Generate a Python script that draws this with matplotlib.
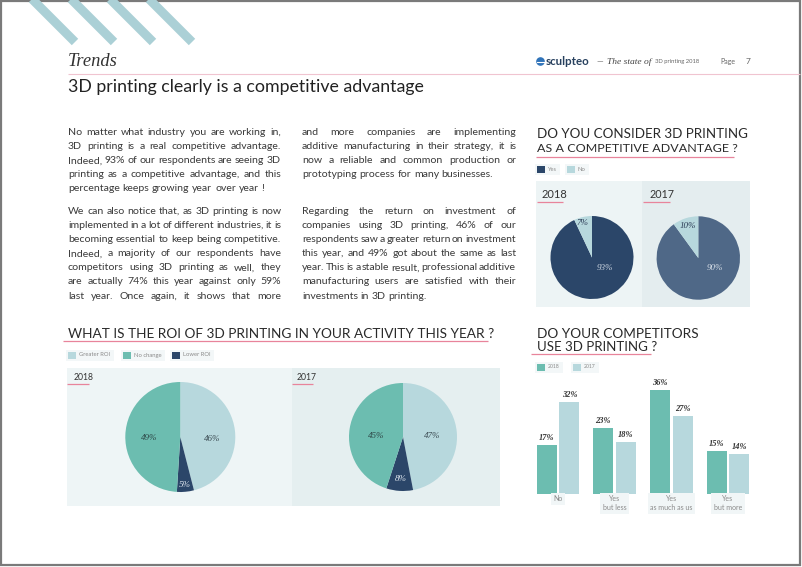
import numpy as np
import matplotlib
matplotlib.use("Agg")
import matplotlib.pyplot as plt
from matplotlib.patches import Rectangle, Circle

# ---- data ----
adv_labels = ["Yes", "No"]
adv_2018 = [93, 7]
adv_2017 = [90, 10]

roi_labels = ["Greater ROI", "No change", "Lower ROI"]
roi_2018 = [46, 49, 5]
roi_2017 = [47, 45, 8]

comp_cats = ["No", "Yes\nbut less", "Yes\nas much as us", "Yes\nbut more"]
comp_years = ["2018", "2017"]
comp_2018 = [17, 23, 36, 15]
comp_2017 = [32, 18, 27, 14]

col1_par1 = ["No matter what industry you are working in,",
             "3D printing is a real competitive advantage.",
             "Indeed, 93% of our respondents are seeing 3D",
             "printing as a competitive advantage, and this",
             "percentage keeps growing year over year !"]
col1_par2 = ["We can also notice that, as 3D printing is now",
             "implemented in a lot of different industries, it is",
             "becoming essential to keep being competitive.",
             "Indeed, a majority of our respondents have",
             "competitors using 3D printing as well, they",
             "are actually 74% this year against only 59%",
             "last year. Once again, it shows that more"]
col2_par1 = ["and more companies are implementing",
             "additive manufacturing in their strategy, it is",
             "now a reliable and common production or",
             "prototyping process for many businesses."]
col2_par2 = ["Regarding the return on investment of",
             "companies using 3D printing, 46% of our",
             "respondents saw a greater return on investment",
             "this year, and 49% got about the same as last",
             "year. This is a stable result, professional additive",
             "manufacturing users are satisfied with their",
             "investments in 3D printing."]

# ---- style ----
W, H = 802, 567
SANS = "Lato"
SERIF = "Liberation Serif"
NAVY = "#2b4669"
SLATE = "#4f6887"
LIGHT = "#b7d8dd"
TEAL = "#6cbdb0"
PINK = "#e8849b"
INK = "#333333"
GREY = "#8a8a8a"

fig = plt.figure(figsize=(W / 100, H / 100), dpi=100)
bg = fig.add_axes([0, 0, 1, 1])
bg.set_xlim(0, W)
bg.set_ylim(H, 0)
bg.axis("off")
rend = fig.canvas.get_renderer()


def box(x0, y0, x1, y1):
    return [x0 / W, 1 - y1 / H, (x1 - x0) / W, (y1 - y0) / H]


def width(t):
    return t.get_window_extent(renderer=rend).width


def fit(t, w):
    t.set_fontsize(t.get_fontsize() * w / width(t))
    return t


def txt(x, y, s, **kw):
    kw.setdefault("family", SANS)
    kw.setdefault("color", INK)
    kw.setdefault("va", "center")
    return bg.text(x, y, s, **kw)


def underline(x0, x1, y, color=PINK, lw=0.9):
    bg.plot([x0, x1], [y, y], color=color, lw=lw, solid_capstyle="butt")


def legend_item(x, y, color, label, w_txt):
    bg.add_patch(Rectangle((x - 2, y - 5.5), w_txt + 16, 11, color="#f3f7f8", lw=0, zorder=0))
    bg.add_patch(Rectangle((x, y - 3.5), 7.5, 7, color=color, lw=0))
    fit(txt(x + 11, y, label, fontsize=5, color=GREY), w_txt)


# page frame and top stripes
bg.add_patch(Rectangle((1, 1), 798.5, 564, fill=False, ec="#7a7a7a", lw=1.6))
for x in [33, 72, 111, 150]:
    bg.plot([x - 4, x + 42], [-4, 42], color="#abd0d6", lw=6.5, solid_capstyle="butt")

# header
fit(txt(68, 61, "Trends", family=SERIF, style="italic", fontsize=14), 50)
underline(68, 800, 73.5, color="#f0c4d0", lw=0.8)
fit(txt(68, 87, "3D printing clearly is a competitive advantage", fontsize=14, color="#222222"), 356)

bg.add_patch(Circle((540.5, 61.5), 3.6, color="#2f73b9"))
bg.plot([537, 544], [61.5, 61.5], color="white", lw=0.8)
fit(txt(546, 61.5, "sculpteo", fontsize=7, weight="bold", color="#27405e"), 44)
txt(596, 61.5, "—", fontsize=6, color="#555555")
fit(txt(607, 61.5, "The state of", family=SERIF, style="italic", fontsize=6.5, color="#444444"), 44)
fit(txt(655, 61.5, "3D printing 2018", fontsize=6, color="#666666"), 45)
fit(txt(720, 61.5, "Page", fontsize=6, color="#666666"), 15)
txt(746, 61.5, "7", fontsize=6, color="#666666")

# body text, justified
t_ref = txt(0, -50, "No matter what industry you are working in,", fontsize=10)
BODY = 10 * 204 / width(t_ref)
t_ref.remove()
t_a = txt(0, -50, "x x", fontsize=BODY)
t_b = txt(0, -50, "xx", fontsize=BODY)
SPACE = width(t_a) - width(t_b)
t_a.remove()
t_b.remove()
LEAD = 14.1


def paragraph(lines, x0, x1, y0, last_full=False):
    for i, line in enumerate(lines):
        y = y0 + i * LEAD + 3
        words = line.split()
        ts = [txt(0, y, w_, fontsize=BODY, color="#3a3a3a", va="baseline") for w_ in words]
        ws = [width(t) for t in ts]
        tight = sum(ws) + 0.55 * SPACE * (len(words) - 1)
        if tight > x1 - x0:
            k = (x1 - x0) / tight
            for t in ts:
                t.set_fontsize(BODY * k)
            ws = [width(t) for t in ts]
        if i == len(lines) - 1 and not last_full:
            gap = SPACE
        else:
            gap = (x1 - x0 - sum(ws)) / (len(words) - 1)
        x = x0
        for t, w_ in zip(ts, ws):
            t.set_x(x)
            x += w_ + gap


paragraph(col1_par1, 68, 281, 132)
paragraph(col1_par2, 68, 281, 211, last_full=True)
paragraph(col2_par1, 302, 516, 132)
paragraph(col2_par2, 302, 516, 211)


def pie(cx, cy, r, vals, colors, labpos, labcol):
    ax = fig.add_axes(box(cx - r, cy - r, cx + r, cy + r))
    wedges, _ = ax.pie(vals, colors=colors, startangle=90, counterclock=False,
                       radius=1, wedgeprops=dict(lw=0))
    for w_, v, (d, shift), c in zip(wedges, vals, labpos, labcol):
        a = np.deg2rad((w_.theta1 + w_.theta2) / 2 + shift)
        ax.text(d * np.cos(a), d * np.sin(a), f"{v}%", ha="center", va="center",
                family=SERIF, style="italic", fontsize=6.5, color=c)
    ax.set_xlim(-1, 1)
    ax.set_ylim(-1, 1)
    ax.axis("off")
    return ax


# --- competitive advantage pies ---
fit(txt(537, 134, "DO YOU CONSIDER 3D PRINTING", fontsize=10, color="#2a2a2a"), 208)
fit(txt(537, 149, "AS A COMPETITIVE ADVANTAGE ?", fontsize=10, color="#2a2a2a"), 199)
underline(536, 734, 157)
legend_item(537, 169.5, NAVY, adv_labels[0], 9)
legend_item(567, 169.5, LIGHT, adv_labels[1], 8)

bg.add_patch(Rectangle((536, 181), 106, 126, color="#edf4f5", lw=0))
bg.add_patch(Rectangle((642, 181), 108, 126, color="#e4edef", lw=0))
fit(txt(542, 194, "2018", fontsize=10), 26)
underline(537, 563, 201.5)
fit(txt(649, 194, "2017", fontsize=10), 25)
underline(643, 670, 201.5)

pie(592, 257.5, 41.5, adv_2018, [NAVY, LIGHT], [(0.40, 39), (0.86, 3)], ["#c9d3df", "#2b3b55"])
pie(698.3, 258, 41.7, adv_2017, [SLATE, LIGHT], [(0.47, 42), (0.81, 0)], ["#d5dde6", "#2b3b55"])

# --- ROI pies ---
fit(txt(68, 333.5, "WHAT IS THE ROI OF 3D PRINTING IN YOUR ACTIVITY THIS YEAR ?",
        fontsize=10, color="#2a2a2a"), 424)
underline(63, 488, 340.5)
legend_item(68, 355, LIGHT, roi_labels[0], 32)
legend_item(123, 355, TEAL, roi_labels[1], 28)
legend_item(172, 355, NAVY, roi_labels[2], 28)

bg.add_patch(Rectangle((67, 368), 225, 138, color="#eef5f6", lw=0))
bg.add_patch(Rectangle((292, 368), 208, 138, color="#e5eff0", lw=0))
fit(txt(74, 377, "2018", fontsize=9), 20)
underline(67, 89, 383.5)
fit(txt(297, 377, "2017", fontsize=9), 20)
underline(292, 313, 384)

# clockwise from 12 o'clock: Greater ROI, Lower ROI, No change
order = [0, 2, 1]
roi_cols = [LIGHT, TEAL, NAVY]
pie(180.3, 437, 55, [roi_2018[i] for i in order], [roi_cols[i] for i in order],
    [(0.573, -11), (0.877, 0), (0.565, 4)], ["#3b4b52", "#dfe6ee", "#2d4646"])
pie(403, 437, 54, [roi_2017[i] for i in order], [roi_cols[i] for i in order],
    [(0.54, -3), (0.785, 0), (0.487, 7)], ["#3b4b52", "#dfe6ee", "#2d4646"])

# --- competitors bar chart ---
fit(txt(537, 334, "DO YOUR COMPETITORS", fontsize=10, color="#2a2a2a"), 161)
fit(txt(537, 347, "USE 3D PRINTING ?", fontsize=10, color="#2a2a2a"), 119)
underline(531, 651, 353.5)
legend_item(537, 367, TEAL, comp_years[0], 12)
legend_item(573, 367, LIGHT, comp_years[1], 12)

axb = fig.add_axes(box(529.7, 378.4, 756.3, 494))
x = np.arange(len(comp_cats))
bw = 0.353
axb.bar(x - 0.2, comp_2018, bw, color=TEAL, lw=0)
axb.bar(x + 0.2, comp_2017, bw, color=LIGHT, lw=0)
for xi, v in zip(x - 0.2, comp_2018):
    axb.text(xi, v + 2.4, f"{v}%", ha="center", va="center", family=SERIF,
             style="italic", weight="bold", fontsize=6, color=INK)
for xi, v in zip(x + 0.2, comp_2017):
    axb.text(xi, v + 2.4, f"{v}%", ha="center", va="center", family=SERIF,
             style="italic", weight="bold", fontsize=6, color=INK)
for xi, c in zip(x, comp_cats):
    axb.text(xi, -0.5, c, ha="center", va="top", family=SANS, fontsize=5, color=GREY,
             linespacing=1.3, clip_on=False,
             bbox=dict(boxstyle="square,pad=0.35", fc="#f1f6f7", ec="none"))
axb.set_xlim(-0.5, 3.5)
axb.set_ylim(0, 40)
axb.axis("off")

fig.savefig("out.png", dpi=100)
